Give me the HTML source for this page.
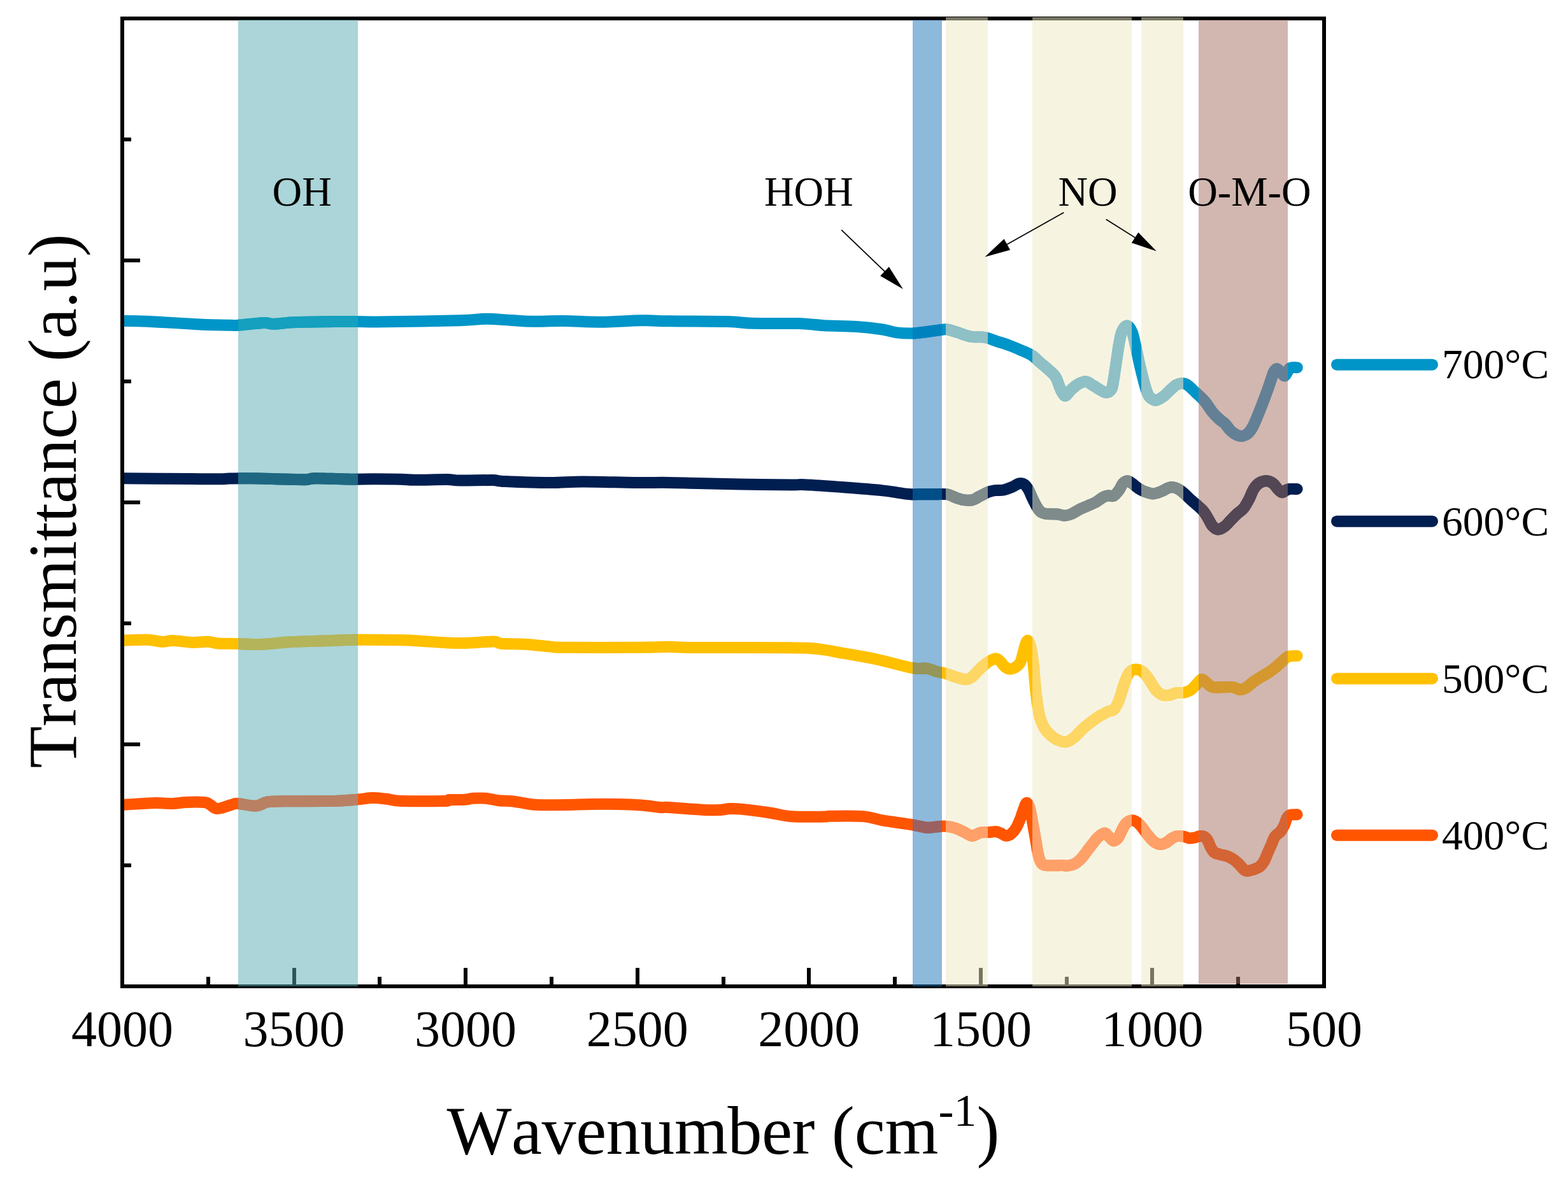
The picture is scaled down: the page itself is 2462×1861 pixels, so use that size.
<!DOCTYPE html>
<html lang="en"><head><meta charset="utf-8"><title>FTIR spectra</title>
<style>html,body{margin:0;padding:0;background:#fff}body{width:2462px;height:1861px;overflow:hidden}svg{display:block}text{font-family:"Liberation Serif",serif;fill:#000;font-kerning:none}</style>
</head><body>
<svg width="2462" height="1861" viewBox="0 0 2462 1861" role="img" aria-label="FTIR transmittance spectra at 400, 500, 600 and 700 degrees C">
<rect x="0" y="0" width="2462" height="1861" fill="#fff"/>
<defs>
<clipPath id="plot"><rect x="195" y="32" width="1881" height="1514"/></clipPath>
<clipPath id="bOH"><rect x="374" y="32" width="188" height="1514"/></clipPath>
<clipPath id="bHOH"><rect x="1433" y="32" width="46" height="1514"/></clipPath>
<clipPath id="bNO"><rect x="1485" y="32" width="66" height="1514"/><rect x="1621" y="32" width="156" height="1514"/><rect x="1792" y="32" width="66" height="1514"/></clipPath>
<clipPath id="bOMO"><rect x="1882" y="32" width="140" height="1513"/></clipPath>
<path id="c400" d="M192.0 1263.9C196.8 1263.6 211.9 1262.7 220.7 1262.2C229.5 1261.7 236.5 1261.0 245.0 1261.0C253.5 1261.0 263.7 1262.1 271.5 1261.9C279.3 1261.7 283.8 1260.3 291.9 1260.0C300.0 1259.7 314.3 1259.5 320.4 1259.9C326.5 1260.4 325.4 1261.1 328.5 1262.7C331.6 1264.3 335.3 1268.6 338.7 1269.6C342.1 1270.6 344.8 1269.5 348.8 1268.6C352.9 1267.7 358.9 1265.1 363.0 1264.0C367.1 1262.9 366.8 1261.6 373.2 1261.9C379.6 1262.2 393.9 1266.0 401.7 1265.6C409.5 1265.2 412.9 1260.6 420.0 1259.4C427.1 1258.2 426.8 1258.5 444.4 1258.3C462.0 1258.0 506.5 1258.4 525.8 1257.9C545.1 1257.5 550.6 1256.4 560.4 1255.6C570.2 1254.8 577.0 1253.2 584.8 1253.1C592.6 1253.0 599.6 1254.0 607.2 1254.8C614.8 1255.6 615.4 1257.4 630.5 1257.9C645.6 1258.4 685.1 1258.2 697.6 1257.9C710.1 1257.6 700.4 1256.4 705.8 1256.1C711.2 1255.8 724.1 1256.2 730.2 1255.8C736.3 1255.4 737.0 1254.1 742.4 1253.8C747.8 1253.5 755.9 1253.2 762.7 1253.8C769.5 1254.4 776.2 1256.5 783.0 1257.2C789.8 1258.0 796.6 1257.6 803.4 1258.3C810.2 1259.0 817.0 1260.5 823.8 1261.5C830.6 1262.5 833.1 1263.6 844.0 1264.0C854.9 1264.4 875.3 1264.2 888.9 1264.0C902.5 1263.8 911.6 1263.2 925.5 1263.0C939.4 1262.8 958.8 1262.8 972.3 1263.0C985.8 1263.2 996.0 1263.7 1006.8 1264.5C1017.6 1265.3 1030.1 1267.4 1037.3 1268.0C1044.5 1268.6 1038.7 1267.3 1050.0 1268.0C1061.3 1268.7 1091.4 1271.2 1105.0 1271.9C1118.6 1272.6 1124.7 1272.2 1131.5 1271.9C1138.3 1271.6 1140.0 1270.2 1145.8 1270.0C1151.5 1269.8 1155.5 1269.8 1166.0 1270.9C1176.5 1272.0 1195.9 1274.6 1208.8 1276.5C1221.7 1278.4 1229.2 1281.2 1243.4 1282.2C1257.7 1283.2 1284.1 1282.7 1294.3 1282.6C1304.5 1282.5 1294.2 1281.8 1304.4 1281.7C1314.6 1281.6 1341.7 1281.0 1355.3 1282.1C1368.9 1283.2 1372.9 1286.1 1385.8 1288.3C1398.7 1290.5 1421.1 1293.4 1432.6 1295.3C1444.1 1297.2 1447.9 1299.3 1455.0 1299.7C1462.1 1300.1 1470.1 1298.2 1475.3 1297.9C1480.5 1297.6 1482.2 1297.4 1486.3 1297.8C1490.4 1298.2 1495.3 1299.0 1499.8 1300.5C1504.3 1302.0 1509.1 1304.6 1513.4 1306.6C1517.7 1308.6 1522.2 1312.1 1525.6 1312.7C1529.0 1313.3 1531.2 1310.9 1533.7 1310.0C1536.2 1309.1 1537.1 1307.8 1540.5 1307.3C1543.9 1306.8 1550.2 1307.2 1554.1 1307.0C1557.9 1306.8 1560.7 1305.7 1563.6 1306.0C1566.5 1306.3 1569.0 1307.6 1571.7 1308.7C1574.4 1309.8 1577.2 1312.6 1579.9 1312.7C1582.6 1312.8 1585.3 1311.5 1588.0 1309.3C1590.7 1307.0 1593.7 1303.4 1596.1 1299.2C1598.5 1295.0 1600.7 1289.0 1602.6 1284.3C1604.5 1279.5 1605.7 1274.6 1607.3 1270.7C1608.9 1266.8 1610.4 1260.9 1612.0 1260.7C1613.6 1260.5 1615.3 1264.2 1616.8 1269.3C1618.3 1274.3 1619.7 1282.8 1621.2 1291.0C1622.7 1299.2 1624.5 1309.8 1626.0 1318.2C1627.5 1326.6 1628.7 1335.3 1630.0 1341.2C1631.3 1347.1 1632.3 1350.5 1634.1 1353.4C1635.9 1356.3 1635.2 1357.8 1640.9 1358.8C1646.6 1359.8 1662.1 1359.0 1668.0 1359.1C1673.9 1359.2 1673.0 1360.0 1676.2 1359.6C1679.4 1359.2 1683.4 1358.7 1687.0 1356.8C1690.6 1354.9 1694.5 1351.5 1697.9 1348.0C1701.3 1344.5 1704.2 1339.9 1707.4 1335.8C1710.6 1331.7 1713.9 1327.2 1716.8 1323.6C1719.7 1320.0 1722.0 1316.6 1725.0 1314.1C1728.0 1311.5 1731.8 1308.3 1734.5 1308.3C1737.2 1308.3 1738.9 1312.1 1741.3 1314.1C1743.7 1316.1 1746.3 1320.3 1748.7 1320.5C1751.1 1320.7 1753.7 1318.2 1755.9 1315.4C1758.1 1312.6 1759.8 1307.4 1761.7 1303.8C1763.6 1300.2 1765.1 1296.3 1767.5 1293.7C1769.9 1291.1 1773.3 1288.8 1776.2 1288.3C1779.1 1287.8 1782.2 1289.2 1784.8 1290.8C1787.4 1292.4 1789.4 1294.9 1792.1 1298.0C1794.8 1301.1 1797.9 1306.0 1800.8 1309.6C1803.7 1313.2 1806.8 1317.2 1809.4 1319.7C1812.1 1322.2 1814.4 1323.8 1816.7 1324.8C1819.0 1325.8 1820.8 1326.2 1823.2 1326.0C1825.6 1325.8 1828.3 1324.8 1831.1 1323.3C1833.9 1321.8 1836.9 1318.5 1839.8 1316.8C1842.7 1315.1 1845.4 1313.7 1848.5 1313.2C1851.6 1312.7 1855.5 1313.0 1858.6 1313.6C1861.7 1314.1 1864.4 1316.2 1867.3 1316.5C1870.2 1316.8 1873.3 1316.0 1876.0 1315.4C1878.7 1314.9 1880.8 1313.5 1883.2 1313.2C1885.6 1313.0 1888.3 1312.8 1890.5 1313.9C1892.7 1315.0 1894.5 1317.1 1896.2 1319.7C1897.9 1322.3 1898.9 1326.7 1900.6 1329.8C1902.3 1332.9 1903.8 1336.5 1906.4 1338.5C1909.1 1340.5 1912.9 1341.0 1916.5 1342.1C1920.1 1343.2 1924.4 1343.5 1928.0 1345.0C1931.6 1346.5 1935.0 1348.5 1938.2 1350.8C1941.4 1353.1 1944.5 1356.4 1946.9 1358.8C1949.3 1361.2 1950.8 1363.8 1952.7 1365.3C1954.6 1366.8 1955.8 1367.8 1958.4 1367.8C1961.1 1367.8 1965.4 1366.3 1968.6 1365.3C1971.8 1364.3 1974.6 1363.6 1977.3 1361.6C1980.0 1359.5 1982.3 1356.6 1984.5 1353.0C1986.7 1349.4 1988.4 1344.2 1990.3 1339.9C1992.2 1335.6 1994.2 1331.2 1996.1 1326.9C1998.0 1322.6 1999.4 1317.4 2001.8 1313.9C2004.2 1310.4 2008.1 1308.9 2010.5 1306.0C2012.9 1303.1 2014.6 1300.0 2016.3 1296.5C2018.0 1293.0 2019.1 1287.8 2020.7 1285.0C2022.3 1282.2 2023.1 1280.9 2025.7 1279.9C2028.3 1278.9 2034.8 1279.3 2036.6 1279.2"/>
<path id="c500" d="M192.0 1005.8C198.5 1005.6 220.5 1004.4 231.0 1004.8C241.5 1005.1 248.2 1007.7 255.0 1007.9C261.8 1008.1 263.7 1005.9 271.5 1006.1C279.3 1006.3 292.8 1008.6 302.0 1008.9C311.2 1009.2 319.7 1007.5 326.5 1007.8C333.3 1008.1 334.9 1010.0 342.7 1010.5C350.4 1011.0 361.8 1010.6 373.0 1010.9C384.2 1011.1 396.4 1012.4 410.0 1012.0C423.6 1011.6 438.7 1009.2 454.6 1008.3C470.5 1007.4 487.9 1007.2 505.5 1006.6C523.1 1006.0 539.6 1005.0 560.4 1004.8C581.1 1004.6 613.2 1005.0 630.0 1005.3C646.8 1005.6 649.0 1006.1 661.0 1006.8C673.0 1007.5 689.9 1008.9 701.7 1009.4C713.5 1009.9 719.8 1010.2 732.0 1009.9C744.2 1009.6 765.8 1007.5 775.0 1007.6C784.2 1007.7 778.9 1010.0 787.0 1010.7C795.1 1011.4 810.9 1010.9 823.8 1011.7C836.7 1012.5 854.2 1014.8 864.4 1015.6C874.6 1016.5 861.7 1016.6 884.8 1016.8C907.9 1017.0 975.3 1017.0 1002.8 1016.8C1030.3 1016.6 1035.7 1015.8 1050.0 1015.8C1064.3 1015.8 1057.6 1016.8 1088.8 1017.0C1120.0 1017.2 1204.8 1016.9 1237.3 1017.3C1269.8 1017.6 1269.4 1017.6 1284.0 1019.1C1298.6 1020.6 1309.5 1023.3 1324.8 1026.0C1340.1 1028.7 1357.6 1031.5 1375.6 1035.3C1393.6 1039.1 1419.4 1046.7 1432.6 1049.1C1445.8 1051.5 1448.8 1048.7 1455.0 1049.6C1461.2 1050.5 1465.2 1053.3 1470.0 1054.6C1474.8 1055.9 1479.1 1056.0 1483.6 1057.3C1488.1 1058.5 1492.6 1060.6 1497.1 1062.1C1501.6 1063.6 1507.1 1065.3 1510.7 1066.1C1514.3 1066.9 1516.1 1067.3 1518.8 1066.7C1521.5 1066.1 1524.3 1064.6 1527.0 1062.5C1529.7 1060.4 1532.2 1056.9 1535.1 1054.0C1538.0 1051.1 1541.4 1047.7 1544.6 1045.0C1547.8 1042.3 1550.9 1039.8 1554.1 1038.0C1557.3 1036.2 1560.9 1034.2 1563.6 1034.2C1566.3 1034.2 1568.2 1036.2 1570.4 1038.3C1572.7 1040.3 1574.6 1044.4 1577.1 1046.5C1579.6 1048.6 1582.3 1050.5 1585.3 1050.7C1588.2 1050.9 1592.0 1049.6 1594.8 1047.8C1597.6 1046.0 1600.3 1043.5 1602.3 1039.7C1604.3 1035.9 1605.2 1029.5 1606.6 1024.8C1607.9 1020.0 1609.2 1014.3 1610.4 1011.2C1611.6 1008.1 1612.7 1005.3 1614.0 1006.0C1615.3 1006.7 1616.8 1009.5 1618.2 1015.3C1619.6 1021.1 1621.1 1031.1 1622.3 1041.0C1623.5 1050.9 1624.3 1064.7 1625.3 1074.9C1626.3 1085.1 1627.2 1093.5 1628.4 1102.1C1629.7 1110.7 1631.0 1119.7 1632.8 1126.5C1634.6 1133.3 1637.0 1138.4 1639.5 1142.8C1642.0 1147.2 1644.3 1149.8 1647.7 1152.9C1651.1 1156.1 1655.4 1159.7 1659.9 1161.7C1664.4 1163.7 1670.3 1165.7 1674.8 1165.0C1679.3 1164.3 1682.7 1161.2 1687.0 1157.7C1691.3 1154.2 1696.1 1148.2 1700.6 1144.1C1705.1 1140.0 1709.6 1136.7 1714.1 1133.3C1718.6 1129.9 1723.2 1126.5 1727.7 1123.8C1732.2 1121.1 1737.8 1118.5 1741.3 1117.0C1744.8 1115.5 1746.3 1116.8 1748.7 1114.5C1751.1 1112.2 1753.6 1107.8 1755.7 1103.0C1757.8 1098.2 1759.6 1091.4 1761.5 1085.6C1763.4 1079.8 1765.1 1073.3 1767.2 1068.2C1769.3 1063.1 1771.3 1058.0 1774.0 1055.2C1776.7 1052.4 1780.2 1051.3 1783.4 1051.2C1786.7 1051.1 1790.4 1052.4 1793.5 1054.5C1796.6 1056.6 1799.5 1060.4 1802.2 1063.9C1804.9 1067.4 1807.0 1071.9 1809.4 1075.5C1811.8 1079.1 1814.0 1082.9 1816.7 1085.6C1819.4 1088.2 1822.3 1090.4 1825.4 1091.4C1828.5 1092.4 1831.9 1092.3 1835.5 1091.8C1839.1 1091.3 1843.2 1088.9 1847.1 1088.2C1850.9 1087.5 1855.0 1088.5 1858.6 1087.8C1862.2 1087.1 1865.7 1086.1 1868.8 1084.2C1871.9 1082.3 1874.5 1079.1 1877.4 1076.2C1880.3 1073.3 1883.4 1067.9 1886.1 1067.1C1888.8 1066.2 1890.9 1069.3 1893.3 1071.1C1895.7 1072.8 1898.2 1076.2 1900.6 1077.6C1903.0 1079.0 1902.0 1079.2 1907.8 1079.5C1913.6 1079.8 1928.8 1078.5 1935.3 1079.1C1941.8 1079.7 1943.3 1083.0 1946.9 1083.1C1950.5 1083.2 1953.9 1081.5 1957.0 1079.8C1960.1 1078.0 1962.1 1075.2 1965.7 1072.6C1969.3 1069.9 1974.1 1066.8 1978.7 1063.9C1983.3 1061.0 1988.9 1058.1 1993.2 1055.2C1997.5 1052.3 2001.1 1049.5 2004.7 1046.5C2008.3 1043.5 2012.0 1039.6 2014.9 1037.1C2017.8 1034.6 2019.7 1032.6 2022.1 1031.4C2024.5 1030.2 2026.9 1030.3 2029.3 1030.1C2031.7 1029.9 2035.4 1030.1 2036.6 1030.1"/>
<path id="c600" d="M192.0 751.3C210.0 751.4 274.5 751.8 300.0 752.0C325.5 752.2 335.0 752.4 345.0 752.3C355.0 752.2 351.7 751.8 360.0 751.6C368.3 751.4 381.0 751.1 395.0 751.3C409.0 751.4 430.5 752.2 444.0 752.5C457.5 752.8 469.3 753.2 476.0 753.3C482.7 753.3 480.5 753.1 484.0 752.8C487.5 752.4 486.7 751.2 497.0 751.2C507.3 751.2 531.0 752.4 546.0 752.6C561.0 752.8 573.0 752.2 587.0 752.2C601.0 752.2 619.3 752.4 630.0 752.7C640.7 753.0 639.0 753.7 651.0 753.8C663.0 753.9 689.9 753.0 701.7 753.1C713.5 753.2 710.1 754.4 722.0 754.6C733.9 754.8 761.2 753.9 773.0 754.1C784.8 754.4 777.8 755.4 793.0 756.1C808.2 756.8 844.0 758.1 864.4 758.1C884.8 758.1 893.2 756.4 915.3 756.4C937.3 756.4 974.2 757.6 996.7 757.9C1019.2 758.1 1033.6 757.7 1050.0 757.9C1066.4 758.1 1076.3 758.5 1095.0 758.9C1113.7 759.3 1137.3 760.1 1162.0 760.5C1186.7 760.9 1226.4 761.3 1243.4 761.4C1260.4 761.5 1250.2 760.6 1263.8 761.2C1277.4 761.9 1304.5 763.8 1324.8 765.3C1345.1 766.8 1368.8 768.6 1385.8 770.4C1402.8 772.2 1416.3 775.0 1426.5 776.0C1436.7 777.0 1439.5 776.2 1446.8 776.2C1454.0 776.2 1463.2 776.3 1470.0 776.3C1476.8 776.3 1482.4 775.4 1487.6 776.3C1492.8 777.2 1496.9 780.2 1501.2 781.7C1505.5 783.2 1509.1 784.5 1513.4 785.1C1517.7 785.7 1522.9 786.0 1527.0 785.1C1531.1 784.2 1533.7 781.7 1537.8 779.7C1541.9 777.7 1547.3 774.5 1551.4 772.9C1555.5 771.3 1558.1 770.8 1562.2 770.2C1566.3 769.6 1571.3 770.4 1575.8 769.5C1580.3 768.6 1585.3 766.5 1589.4 764.8C1593.5 763.1 1597.1 759.9 1600.2 759.2C1603.3 758.5 1605.9 759.1 1608.3 760.7C1610.7 762.3 1612.7 765.2 1614.8 768.8C1616.9 772.4 1618.8 777.9 1621.0 782.4C1623.2 786.9 1625.8 792.4 1628.0 796.0C1630.2 799.6 1632.1 802.3 1634.5 804.1C1636.9 805.9 1638.0 806.2 1642.2 806.8C1646.4 807.4 1655.2 807.0 1659.9 807.5C1664.7 808.0 1667.1 809.7 1670.7 809.7C1674.3 809.7 1677.8 809.0 1681.6 807.5C1685.4 806.0 1689.5 802.9 1693.8 800.7C1698.1 798.6 1702.9 796.6 1707.4 794.6C1711.9 792.6 1716.8 790.8 1720.9 788.5C1725.0 786.2 1728.6 782.7 1731.8 781.0C1735.0 779.3 1737.1 778.7 1739.9 778.3C1742.7 777.9 1745.8 780.2 1748.7 778.7C1751.6 777.2 1755.0 772.5 1757.4 769.3C1759.8 766.0 1760.9 761.5 1763.1 759.2C1765.3 756.9 1768.0 755.3 1770.4 755.3C1772.8 755.3 1774.7 757.2 1777.6 759.2C1780.5 761.2 1784.3 764.9 1787.7 767.1C1791.1 769.3 1794.0 770.8 1797.9 772.2C1801.8 773.6 1806.6 775.5 1810.9 775.4C1815.2 775.3 1820.1 773.0 1823.9 771.5C1827.8 770.0 1831.1 767.5 1834.0 766.4C1836.9 765.3 1838.6 764.9 1841.3 765.1C1844.0 765.4 1847.1 766.4 1850.0 767.9C1852.9 769.4 1855.2 771.5 1858.6 774.4C1862.0 777.3 1866.3 781.7 1870.2 785.2C1874.1 788.7 1878.4 792.3 1881.8 795.4C1885.2 798.5 1887.8 800.6 1890.5 804.0C1893.2 807.4 1895.5 812.0 1897.7 815.6C1899.9 819.2 1901.1 823.1 1903.5 825.7C1905.9 828.4 1909.1 831.2 1912.2 831.5C1915.3 831.8 1918.9 829.6 1922.3 827.2C1925.7 824.8 1929.0 820.5 1932.4 817.1C1935.8 813.7 1939.1 810.0 1942.5 806.9C1945.9 803.8 1949.6 802.1 1952.7 798.2C1955.8 794.4 1958.7 788.8 1961.3 783.8C1963.9 778.8 1965.9 772.1 1968.6 767.9C1971.3 763.7 1973.9 760.6 1977.3 758.5C1980.7 756.4 1985.2 755.1 1988.8 755.2C1992.4 755.3 1996.0 757.1 1998.9 759.2C2001.8 761.3 2003.9 765.6 2006.2 767.9C2008.5 770.2 2010.5 772.9 2012.7 773.2C2014.9 773.6 2017.2 770.9 2019.2 770.0C2021.2 769.1 2022.1 768.3 2025.0 768.0C2027.9 767.7 2034.7 768.0 2036.6 768.0"/>
<path id="c700" d="M192.0 504.0C198.5 504.1 210.7 503.8 231.0 504.7C251.3 505.6 292.0 508.4 314.0 509.4C336.0 510.4 353.0 510.6 363.0 510.8C373.0 511.0 365.5 511.4 374.0 510.8C382.5 510.2 404.7 507.3 414.0 507.0C423.3 506.7 421.5 509.0 430.0 508.8C438.5 508.6 449.0 506.6 465.0 506.0C481.0 505.4 510.2 505.2 526.0 505.0C541.8 504.8 546.5 504.9 560.0 505.0C573.5 505.1 580.0 505.6 607.0 505.3C634.0 505.0 696.0 504.1 722.0 503.3C748.0 502.6 749.5 500.9 763.0 500.8C776.5 500.8 791.2 502.4 803.0 503.0C814.8 503.6 820.3 504.5 834.0 504.7C847.7 504.9 867.0 503.8 885.0 504.0C903.0 504.2 921.7 505.8 942.0 505.7C962.3 505.6 989.0 503.5 1007.0 503.3C1025.0 503.1 1027.5 504.0 1050.0 504.3C1072.5 504.6 1120.0 504.4 1142.0 505.0C1164.0 505.6 1163.3 507.3 1182.0 507.8C1200.7 508.3 1235.3 507.5 1254.0 508.1C1272.7 508.7 1278.8 510.4 1294.0 511.2C1309.2 512.0 1329.7 511.9 1345.0 513.0C1360.3 514.0 1375.5 515.9 1386.0 517.5C1396.5 519.1 1399.5 521.4 1408.0 522.4C1416.5 523.4 1425.5 523.9 1437.0 523.2C1448.5 522.5 1468.6 519.1 1477.0 518.1C1485.4 517.1 1483.1 516.8 1487.6 517.5C1492.1 518.2 1497.8 520.4 1503.9 522.2C1510.0 524.1 1517.8 527.4 1524.3 528.6C1530.8 529.8 1538.7 529.0 1543.2 529.4C1547.7 529.8 1547.8 529.9 1551.4 531.0C1555.0 532.1 1559.3 534.1 1565.0 536.0C1570.7 537.9 1578.5 540.1 1585.3 542.6C1592.1 545.1 1599.7 548.5 1605.6 551.1C1611.5 553.7 1616.0 555.2 1620.5 558.2C1625.0 561.2 1628.5 565.3 1632.8 569.0C1637.1 572.7 1642.2 576.7 1646.3 580.5C1650.4 584.3 1654.7 587.7 1657.5 592.0C1660.3 596.3 1661.6 602.4 1663.3 606.5C1665.0 610.6 1666.2 614.0 1667.8 616.5C1669.4 619.0 1670.7 622.4 1673.0 621.7C1675.3 621.0 1678.4 615.4 1681.6 612.4C1684.8 609.4 1688.6 605.8 1692.4 603.6C1696.2 601.4 1700.5 599.0 1704.6 599.3C1708.7 599.6 1712.9 603.4 1716.8 605.6C1720.7 607.8 1724.3 610.6 1727.7 612.4C1731.1 614.2 1734.3 616.7 1737.2 616.5C1740.1 616.3 1743.4 614.5 1745.3 611.0C1747.2 607.5 1747.4 603.1 1748.7 595.7C1750.0 588.3 1751.5 576.4 1753.0 566.8C1754.5 557.2 1756.0 545.6 1757.4 537.9C1758.9 530.2 1759.7 524.9 1761.7 520.5C1763.7 516.1 1766.8 511.4 1769.5 511.5C1772.2 511.6 1775.3 515.8 1777.6 521.4C1779.9 527.0 1781.5 536.3 1783.5 545.1C1785.5 553.9 1787.5 564.4 1789.7 574.0C1792.0 583.6 1794.9 595.5 1797.0 603.0C1799.1 610.5 1800.5 615.0 1802.3 618.9C1804.1 622.8 1805.8 624.5 1808.0 626.1C1810.2 627.7 1812.1 629.2 1815.2 628.6C1818.3 628.0 1822.9 625.3 1826.8 622.5C1830.7 619.7 1835.0 614.6 1838.4 611.6C1841.8 608.6 1844.2 606.0 1847.1 604.4C1850.0 602.8 1852.8 602.0 1855.7 602.0C1858.6 602.0 1860.8 602.0 1864.4 604.4C1868.0 606.8 1872.8 612.1 1877.4 616.5C1882.0 620.9 1887.6 625.6 1891.9 630.6C1896.2 635.6 1899.9 642.3 1903.5 646.8C1907.1 651.3 1910.2 654.4 1913.6 657.5C1917.0 660.6 1920.6 662.5 1923.7 665.7C1926.8 668.9 1929.3 673.6 1932.4 676.5C1935.5 679.4 1939.5 681.9 1942.5 683.3C1945.5 684.7 1947.7 685.2 1950.4 684.8C1953.2 684.4 1956.3 683.3 1959.0 681.0C1961.7 678.7 1964.0 675.6 1966.6 671.0C1969.2 666.4 1971.7 660.1 1974.4 653.6C1977.1 647.1 1980.4 638.6 1983.0 631.9C1985.6 625.1 1987.8 619.1 1990.0 613.1C1992.2 607.1 1994.3 600.5 1996.0 595.7C1997.7 590.9 1998.5 587.0 2000.0 584.2C2001.5 581.5 2003.0 579.0 2005.0 579.2C2007.0 579.4 2010.0 583.8 2012.0 585.6C2014.0 587.5 2015.7 590.6 2017.3 590.3C2018.9 590.0 2020.2 586.0 2021.5 584.0C2022.8 582.0 2023.8 579.6 2025.0 578.5C2026.2 577.4 2027.0 577.4 2029.0 577.2C2031.0 577.0 2035.5 577.2 2036.8 577.2"/>
</defs>
<g fill="none" stroke-width="18" stroke-linejoin="round" stroke-linecap="round" clip-path="url(#plot)">
<use href="#c400" stroke="#FF5500"/>
<use href="#c500" stroke="#FFC000"/>
<use href="#c600" stroke="#001E50"/>
<use href="#c700" stroke="#0095C8"/>
</g>
<g stroke="#000" stroke-width="6" fill="none" shape-rendering="crispEdges">
<rect x="192" y="29" width="1887" height="1520"/>
<line x1="327" y1="1549" x2="327" y2="1534"/>
<line x1="462" y1="1549" x2="462" y2="1520"/>
<line x1="596" y1="1549" x2="596" y2="1534"/>
<line x1="731" y1="1549" x2="731" y2="1520"/>
<line x1="866" y1="1549" x2="866" y2="1534"/>
<line x1="1001" y1="1549" x2="1001" y2="1520"/>
<line x1="1136" y1="1549" x2="1136" y2="1534"/>
<line x1="1270" y1="1549" x2="1270" y2="1520"/>
<line x1="1405" y1="1549" x2="1405" y2="1534"/>
<line x1="1540" y1="1549" x2="1540" y2="1520"/>
<line x1="1675" y1="1549" x2="1675" y2="1534"/>
<line x1="1809" y1="1549" x2="1809" y2="1520"/>
<line x1="1944" y1="1549" x2="1944" y2="1534"/>
<line x1="192" y1="219.0" x2="206" y2="219.0"/>
<line x1="192" y1="409.0" x2="220" y2="409.0"/>
<line x1="192" y1="599.0" x2="206" y2="599.0"/>
<line x1="192" y1="789.0" x2="220" y2="789.0"/>
<line x1="192" y1="979.0" x2="206" y2="979.0"/>
<line x1="192" y1="1169.0" x2="220" y2="1169.0"/>
<line x1="192" y1="1359.0" x2="206" y2="1359.0"/>
</g>
<g shape-rendering="crispEdges">
<rect x="374" y="31" width="188" height="1518" fill="rgb(87,171,177)" fill-opacity="0.5"/>
<rect x="1433" y="31" width="46" height="1518" fill="rgb(27,115,183)" fill-opacity="0.5"/>
<rect x="1485" y="27" width="66" height="1522" fill="rgb(237,233,195)" fill-opacity="0.5"/>
<rect x="1621" y="27" width="156" height="1522" fill="rgb(237,233,195)" fill-opacity="0.5"/>
<rect x="1792" y="27" width="66" height="1522" fill="rgb(237,233,195)" fill-opacity="0.5"/>
<rect x="1882" y="31" width="140" height="1514" fill="rgb(163,111,95)" fill-opacity="0.5"/>
</g>
<g fill="none" stroke-width="18" stroke-linejoin="round" stroke-linecap="round">
<g clip-path="url(#bOH)">
<use href="#c400" stroke="rgb(185,128,100)"/>
<use href="#c500" stroke="rgb(180,180,90)"/>
<use href="#c600" stroke="rgb(30,103,130)"/>
<use href="#c700" stroke="rgb(20,160,190)"/>
</g>
<g clip-path="url(#bHOH)">
<use href="#c400" stroke="rgb(155,97,97)"/>
<use href="#c500" stroke="rgb(150,150,90)"/>
<use href="#c600" stroke="rgb(0,78,135)"/>
<use href="#c700" stroke="rgb(0,130,190)"/>
</g>
<g clip-path="url(#bNO)">
<use href="#c400" stroke="rgb(255,160,105)"/>
<use href="#c500" stroke="rgb(253,214,100)"/>
<use href="#c600" stroke="rgb(127,139,139)"/>
<use href="#c700" stroke="rgb(142,192,198)"/>
</g>
<g clip-path="url(#bOMO)">
<use href="#c400" stroke="rgb(212,100,52)"/>
<use href="#c500" stroke="rgb(212,152,47)"/>
<use href="#c600" stroke="rgb(83,70,85)"/>
<use href="#c700" stroke="rgb(100,128,150)"/>
</g>
</g>
<g fill="none" stroke-width="18" stroke-linecap="round">
<line x1="2099" y1="572.7" x2="2249" y2="572.7" stroke="#0095C8"/>
<line x1="2099" y1="818.7" x2="2249" y2="818.7" stroke="#001E50"/>
<line x1="2099" y1="1065.7" x2="2249" y2="1065.7" stroke="#FFC000"/>
<line x1="2099" y1="1311.7" x2="2249" y2="1311.7" stroke="#FF5500"/>
</g>
<g font-size="65.5">
<text x="2264" y="594.2">700°C</text>
<text x="2264" y="840.6">600°C</text>
<text x="2264" y="1087.6">500°C</text>
<text x="2264" y="1333.6">400°C</text>
</g>
<g font-size="64.5">
<text x="427.6" y="322.8">OH</text>
<text x="1200" y="322.8">HOH</text>
<text x="1661.4" y="322.8">NO</text>
<text x="1865.2" y="322.8">O-M-O</text>
</g>
<line x1="1321.2" y1="361.2" x2="1390.5" y2="427.6" stroke="#000" stroke-width="1.8"/><polygon points="1417.9,453.9 1382.2,433.3 1395.8,419.1" fill="#000"/>
<line x1="1670.3" y1="333.8" x2="1579.5" y2="384.8" stroke="#000" stroke-width="1.8"/><polygon points="1546.4,403.4 1576.5,375.3 1586.1,392.4" fill="#000"/>
<line x1="1736.7" y1="344.5" x2="1783.8" y2="374.2" stroke="#000" stroke-width="1.8"/><polygon points="1815.9,394.5 1776.8,381.4 1787.3,364.9" fill="#000"/>
<g font-size="80" text-anchor="middle">
<text x="192.0" y="1643">4000</text>
<text x="461.6" y="1643">3500</text>
<text x="731.1" y="1643">3000</text>
<text x="1000.7" y="1643">2500</text>
<text x="1270.3" y="1643">2000</text>
<text x="1539.9" y="1643">1500</text>
<text x="1809.4" y="1643">1000</text>
<text x="2079.0" y="1643">500</text>
</g>
<text x="701.6" y="1811.6" font-size="108"><tspan letter-spacing="-0.42">Wavenumber </tspan>(cm<tspan font-size="72" dy="-44">-1</tspan><tspan dy="44">)</tspan></text>
<text transform="translate(119,1206.5) rotate(-90)" font-size="108"><tspan letter-spacing="-0.45">Transmittance </tspan>(a.u)</text>
</svg>
</body></html>
